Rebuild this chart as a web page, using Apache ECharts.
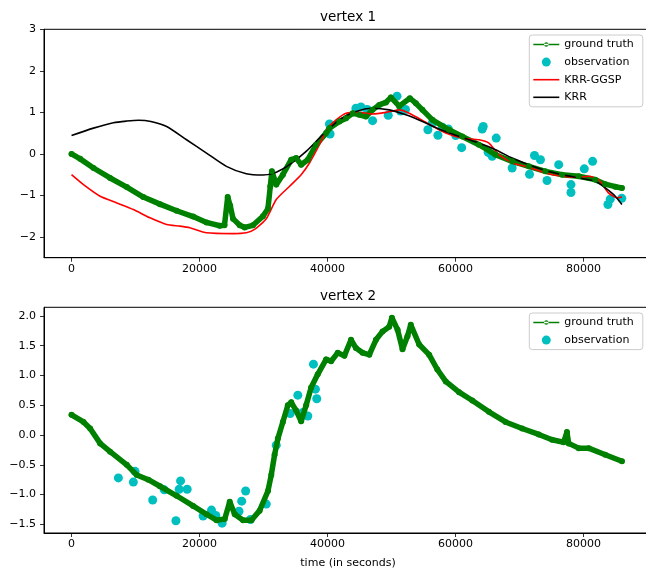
<!DOCTYPE html>
<html>
<head>
<meta charset="utf-8">
<script src="https://cdn.jsdelivr.net/npm/echarts@6/dist/echarts.min.js"></script>
<style>
html, body { margin: 0; padding: 0; overflow: hidden; background: #fff; }
#chart { width: 660px; height: 570px; }
</style>
</head>
<body>
<div id="chart"></div>
<script>
// tick labels
var xTicks = [0, 20000, 40000, 60000, 80000];
var yTicks1 = [-2, -1, 0, 1, 2, 3];
var yTicks2 = [-1.5, -1.0, -0.5, 0.0, 0.5, 1.0, 1.5, 2.0];

// vertex 1
var truth1 = [[0,0.0],[1350,-0.12],[3430,-0.34],[6030,-0.58],[8630,-0.80],[11220,-1.04],[13820,-1.21],[16420,-1.37],
  [19000,-1.51],[21090,-1.65],[23160,-1.73],[23900,-1.72],[24400,-1.04],[24800,-1.25],[25230,-1.56],[26280,-1.72],
  [27060,-1.77],[28350,-1.72],[29910,-1.50],[30690,-1.32],[31060,-0.78],[31310,-0.42],[31990,-0.74],[33020,-0.50],
  [34330,-0.14],[35100,-0.10],[35880,-0.26],[36920,-0.14],[38220,0.22],[39780,0.50],[40300,0.62],[41850,0.78],
  [42900,0.86],[43930,0.98],[44970,0.94],[46000,0.90],[47040,1.06],[48090,1.18],[49130,1.24],[49900,1.36],
  [51200,1.15],[52870,1.34],[53800,1.22],[54830,1.06],[56390,0.82],[58980,0.58],[61050,0.42],[63660,0.22],
  [66250,-0.02],[68850,-0.18],[71450,-0.30],[74040,-0.42],[76640,-0.50],[79240,-0.54],[81840,-0.62],[83400,-0.73],
  [84960,-0.79],[86000,-0.82]];
var obs1 = [[40300,0.72],[40400,0.48],[44440,1.10],[45220,1.13],[46200,1.07],[47040,0.80],[49490,0.93],[50860,1.39],
  [51400,1.03],[52180,1.07],[55680,0.58],[56390,0.75],[57250,0.45],[57940,0.64],[58880,0.60],[60030,0.44],
  [60960,0.15],[64170,0.60],[64330,0.66],[66360,0.38],[65100,0.04],[65500,0.00],[65730,-0.06],[68850,-0.34],
  [71560,-0.49],[72340,-0.04],[73270,-0.14],[74300,-0.64],[76120,-0.26],[78040,-0.74],[78040,-0.93],[80120,-0.36],
  [81420,-0.18],[83810,-1.22],[84170,-1.09],[85980,-1.07]];
var krrGgsp1 = [[0,-0.50],[1870,-0.74],[4470,-1.02],[7070,-1.18],[9660,-1.34],[12260,-1.54],[14860,-1.70],[16930,-1.74],
  [18490,-1.78],[21090,-1.90],[25230,-1.92],[27310,-1.90],[28600,-1.82],[30430,-1.56],[31990,-1.10],[34070,-0.78],
  [35880,-0.50],[37180,-0.22],[38740,0.22],[40030,0.62],[41340,0.82],[42900,0.98],[44970,1.00],[47040,0.96],
  [49130,1.00],[51200,1.06],[52760,0.98],[55350,0.76],[58470,0.50],[61050,0.38],[63660,0.34],[65220,0.26],
  [66780,-0.02],[68850,-0.22],[71450,-0.32],[74040,-0.46],[76640,-0.54],[79240,-0.56],[80800,-0.54],[82350,-0.62],
  [83910,-0.94],[85200,-1.06],[86000,-1.04]];
var krr1 = [[0,0.44],[3430,0.62],[6540,0.75],[8600,0.79],[10500,0.81],[12400,0.78],[14860,0.66],[17970,0.34],[21090,0.02],
  [24200,-0.30],[27310,-0.48],[29900,-0.51],[31990,-0.44],[34070,-0.26],[36660,0.06],[39250,0.46],[41850,0.82],
  [44440,1.02],[47040,1.10],[49640,1.06],[52240,0.94],[54830,0.78],[57430,0.60],[60000,0.45],[63660,0.26],
  [66250,0.10],[68850,-0.10],[71450,-0.26],[74040,-0.40],[76640,-0.50],[79240,-0.58],[81840,-0.66],[83400,-0.82],
  [84960,-1.02],[86000,-1.22]];

// vertex 2
var truth2 = [[0,0.34],[1870,0.22],[2910,0.11],[4470,-0.14],[6030,-0.28],[8630,-0.50],[10190,-0.67],[12000,-0.75],
  [13820,-0.86],[16420,-1.02],[19000,-1.19],[21090,-1.33],[22650,-1.43],[23940,-1.41],[24720,-1.12],[25500,-1.33],
  [26800,-1.43],[28100,-1.43],[29390,-1.27],[30690,-0.94],[31210,-0.67],[31730,-0.33],[32240,-0.06],[33020,0.22],
  [33800,0.50],[34330,0.55],[35100,0.41],[35880,0.23],[36660,0.50],[37440,0.80],[38470,1.02],[39780,1.27],
  [40560,1.24],[41590,1.38],[42630,1.33],[43670,1.60],[44440,1.46],[45480,1.38],[46530,1.35],[47570,1.60],
  [48600,1.74],[49640,1.82],[50060,1.97],[50940,1.77],[51720,1.44],[52490,1.66],[53010,1.85],[54320,1.52],
  [55870,1.35],[57160,1.10],[58470,0.90],[60550,0.72],[62620,0.58],[65220,0.39],[67810,0.22],[70410,0.11],
  [73010,0.01],[75080,-0.08],[76900,-0.12],[77410,0.05],[77680,-0.14],[79240,-0.22],[80800,-0.22],[83400,-0.33],
  [86000,-0.44]];
var obs2 = [[7320,-0.72],[9660,-0.79],[9920,-0.61],[12680,-1.09],[14490,-0.92],[16310,-1.44],[16820,-0.91],[17040,-0.77],
  [18070,-0.91],[20560,-1.36],[21870,-1.26],[22540,-1.35],[23530,-1.48],[26170,-1.28],[26590,-1.11],[27210,-0.94],
  [27940,-1.42],[30430,-1.16],[31990,-0.17],[34170,0.36],[35360,0.67],[36140,0.38],[36920,0.32],[37800,1.19],
  [38110,0.77],[38320,0.61]];

var font = 'DejaVu Sans';
var green = '#008000', cyan = '#00bfbf';

function minus(s) { return String(s).replace('-', '\u2212'); }

function makeX(gi, name) {
  return {
    type: 'value', gridIndex: gi, min: -4300, max: 90700,
    name: name, nameLocation: 'middle', nameGap: 25,
    nameTextStyle: { color: '#000', fontSize: 11, fontFamily: font },
    axisLine: { show: true, onZero: false, lineStyle: { color: '#000', width: 1 } },
    splitLine: { show: false },
    axisTick: { show: true, length: 4, customValues: xTicks, lineStyle: { color: '#000', width: 0.8 } },
    axisLabel: { customValues: xTicks, color: '#000', fontSize: 11, fontFamily: font, margin: 6,
      formatter: function (v) { return minus(v); } }
  };
}
function makeY(gi, lo, hi, ticks, dec) {
  return {
    type: 'value', gridIndex: gi, min: lo, max: hi,
    axisLine: { show: true, onZero: false, lineStyle: { color: '#000', width: 1 } },
    splitLine: { show: false },
    axisTick: { show: true, length: 4, customValues: ticks, lineStyle: { color: '#000', width: 0.8 } },
    axisLabel: { customValues: ticks, color: '#000', fontSize: 11, fontFamily: font, margin: 8,
      formatter: function (v) { return minus(v.toFixed(dec)); } }
  };
}

var dotIcon = 'path://M0,4.3L26,4.3L26,5.7L0,5.7Z M10.8,5a2.2,2.2 0 1,0 4.4,0a2.2,2.2 0 1,0 -4.4,0Z';
var lineIcon = 'path://M0,4.2L26,4.2L26,5.8L0,5.8Z';
var legendBase = {
  orient: 'vertical', left: 529.3, itemWidth: 26, itemHeight: 9, itemGap: 6.6,
  backgroundColor: 'rgba(255,255,255,0.8)', borderColor: '#cccccc', borderWidth: 1, borderRadius: 3,
  padding: [4, 9, 4, 4], selectedMode: false,
  textStyle: { color: '#000', fontSize: 11, fontFamily: font }
};

var chart = echarts.init(document.getElementById('chart'), null, { renderer: 'canvas' });
chart.setOption({
  animation: false,
  backgroundColor: '#fff',
  grid: [
    { left: 44, top: 29.3, width: 608, height: 228.4, show: true, borderColor: '#000', borderWidth: 1 },
    { left: 44, top: 307.3, width: 608, height: 228.7, show: true, borderColor: '#000', borderWidth: 1 }
  ],
  xAxis: [makeX(0, ''), makeX(1, 'time (in seconds)')],
  yAxis: [makeY(0, -2.5, 3, yTicks1, 0), makeY(1, -1.645, 2.145, yTicks2, 1)],
  graphic: [
    { type: 'text', x: 348, y: 17, style: { text: 'vertex 1', font: '13.5px DejaVu Sans', fill: '#000', textAlign: 'center', textVerticalAlign: 'middle' } },
    { type: 'text', x: 348, y: 296.5, style: { text: 'vertex 2', font: '13.5px DejaVu Sans', fill: '#000', textAlign: 'center', textVerticalAlign: 'middle' } }
  ],
  legend: [
    Object.assign({}, legendBase, { top: 35, data: [
      { name: 'ground truth', icon: dotIcon }, { name: 'observation', icon: 'circle' },
      { name: 'KRR-GGSP', icon: lineIcon }, { name: 'KRR', icon: lineIcon }] }),
    Object.assign({}, legendBase, { top: 313, data: [
      { name: 'ground truth', icon: dotIcon }, { name: 'observation', icon: 'circle' }] })
  ],
  series: [
    { name: 'ground truth', type: 'line', xAxisIndex: 0, yAxisIndex: 0, data: truth1,
      symbol: 'circle', symbolSize: 6, color: green, lineStyle: { width: 5.5, color: green, join: 'round', cap: 'round' } },
    { name: 'observation', type: 'scatter', xAxisIndex: 0, yAxisIndex: 0, data: obs1,
      symbolSize: 9, itemStyle: { color: cyan, opacity: 1 } },
    { name: 'KRR-GGSP', type: 'line', xAxisIndex: 0, yAxisIndex: 0, data: krrGgsp1, smooth: 0.2,
      symbol: 'none', color: '#ff0000', lineStyle: { width: 1.6, color: '#ff0000' } },
    { name: 'KRR', type: 'line', xAxisIndex: 0, yAxisIndex: 0, data: krr1, smooth: 0.25,
      symbol: 'none', color: '#000', lineStyle: { width: 1.6, color: '#000' } },
    { name: 'ground truth', type: 'line', xAxisIndex: 1, yAxisIndex: 1, data: truth2,
      symbol: 'circle', symbolSize: 6, color: green, lineStyle: { width: 5.5, color: green, join: 'round', cap: 'round' } },
    { name: 'observation', type: 'scatter', xAxisIndex: 1, yAxisIndex: 1, data: obs2,
      symbolSize: 9, itemStyle: { color: cyan, opacity: 1 } }
  ]
});
</script>
</body>
</html>
